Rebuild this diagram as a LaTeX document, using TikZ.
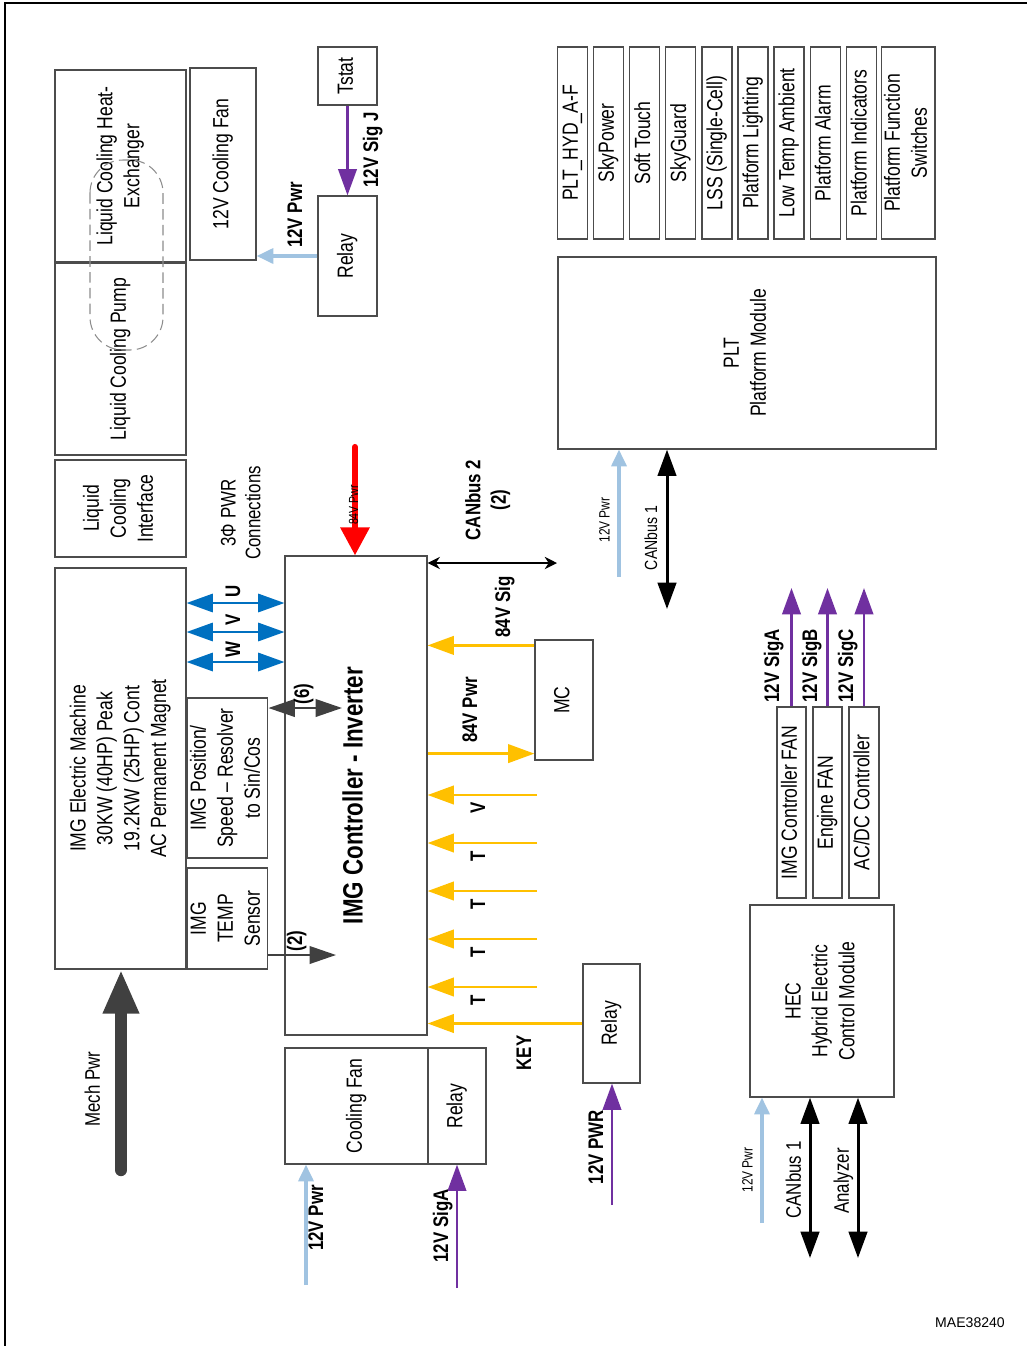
\documentclass[tikz,border=0pt]{standalone}
\usepackage{fontspec}
\setmainfont{Liberation Sans}[FakeStretch=0.8]
\newfontfamily\tagfont{Liberation Sans}
\usepackage{graphicx}
\usetikzlibrary{arrows.meta, calc}

\definecolor{pwrblue}{RGB}{160,195,225}
\definecolor{sigpurple}{RGB}{112,48,160}
\definecolor{sigyellow}{RGB}{255,192,0}
\definecolor{phaseblue}{RGB}{0,112,192}
\definecolor{mechgray}{RGB}{64,64,64}

% rotated (bottom-to-top) text block
\newcommand{\vtxt}[1]{\rotatebox{90}{\begin{tabular}{@{}c@{}}#1\end{tabular}}}

\tikzset{
  blk/.style={draw=black!70, line width=0.7pt, inner sep=0pt,
              font=\fontsize{12.5}{15.3}\selectfont},
  lbl/.style={inner sep=0pt, font=\bfseries\fontsize{12}{14.5}\selectfont},
  txt/.style={inner sep=0pt, font=\fontsize{12}{14.2}\selectfont},
  smalltxt/.style={inner sep=0pt, font=\fontsize{8.5}{10}\selectfont},
  pwr12/.style={draw=pwrblue, line width=2pt, -{Triangle[length=9.5pt, width=8.5pt]}},
  sig12/.style={draw=sigpurple, line width=1.5pt, -{Triangle[length=15pt, width=10.5pt]}},
  sig84/.style={draw=sigyellow, line width=1.6pt, -{Triangle[length=15pt, width=10.5pt]}},
  phase/.style={draw=phaseblue, line width=1.1pt,
                {Triangle[length=15pt, width=10.5pt]}-{Triangle[length=15pt, width=10.5pt]}},
  can/.style={draw=black, line width=1.7pt,
              {Triangle[length=15pt, width=10.5pt]}-{Triangle[length=15pt, width=10.5pt]}},
  can2/.style={draw=black, line width=0.9pt,
               {Stealth[length=7pt, width=7pt]}-{Stealth[length=7pt, width=7pt]}},
  dgarrow/.style={draw=mechgray, line width=1.1pt},
  dgtip/.style={Triangle[length=15pt, width=10pt]},
  pwr84/.style={draw=red, line width=3.5pt, line cap=round, -{Triangle[length=16pt, width=16pt]}},
  mecharrow/.style={draw=mechgray, line width=7pt, line cap=round, -{Triangle[length=25pt, width=19pt]}},
  coolloop/.style={draw=black!45, line width=0.6pt, dash pattern=on 6pt off 3pt, rounded corners=0.66cm}
}

\begin{document}
\begin{tikzpicture}[x=0.02cm, y=-0.02cm]
  \useasboundingbox (0,0) rectangle (1027,1346);
  \draw[line width=1.7pt] (5,1346) -- (5,3) -- (1027,3);

  % cooling
  \node[blk, minimum width=2.62cm, minimum height=3.84cm] (hx) at (120.5,166)
    {\vtxt{Liquid Cooling Heat-\\Exchanger}};
  \node[blk, minimum width=2.62cm, minimum height=3.84cm] (pump) at (120.5,359)
    {\vtxt{Liquid Cooling Pump}};
  \draw[coolloop] (90,160) rectangle (163,350);
  \node[blk, minimum width=1.32cm, minimum height=3.84cm] (fan) at (223,164)
    {\vtxt{12V Cooling Fan}};
  \node[blk, minimum width=1.18cm, minimum height=1.16cm] (tstat) at (347.5,76) {\vtxt{Tstat}};
  \node[blk, minimum width=1.18cm, minimum height=2.4cm] (relayj) at (347.5,256) {\vtxt{Relay}};
  \draw[sig12] (tstat) -- (relayj);
  \node[lbl] (lsigj) at (373,150) {\vtxt{12V Sig J}};
  \draw[pwr12] (relayj.west) -- (relayj.west -| fan.east);
  \node[lbl] (lpwrj) at (297,215) {\vtxt{12V Pwr}};
  \node[blk, minimum width=2.62cm, minimum height=1.94cm] (lci) at (120.5,508.5)
    {\vtxt{Liquid\\Cooling\\Interface}};
  \node[txt] (l3ph) at (243,513) {\vtxt{3Φ PWR\\Connections}};

  % machine and controller
  \node[blk, minimum width=2.62cm, minimum height=8.02cm] (img) at (120.5,768.5)
    {\vtxt{IMG Electric Machine\\30KW (40HP) Peak\\19.2KW (25HP) Cont\\AC Permanent Magnet}};
  \node[blk, minimum width=1.5cm, minimum height=3.2cm] (pos) at (227.5,778)
    {\vtxt{IMG Position/\\Speed – Resolver\\to Sin/Cos}};
  \node[blk, minimum width=1.5cm, minimum height=2.02cm] (temp) at (227.5,918.5)
    {\vtxt{IMG\\TEMP\\Sensor}};
  \node[blk, minimum width=2.84cm, minimum height=9.58cm,
        font=\bfseries\fontsize{15.9}{19}\selectfont] (ctrl) at (356,795.5)
    {\vtxt{IMG Controller - Inverter}};

  \foreach \yy/\ph in {603/U,632/V,662/W}{
    \draw[phase] (img.east |- 0,\yy) -- (ctrl.west |- 0,\yy);
    \node[lbl] (ph\ph) at (235,\yy-12) {\vtxt{\ph}};
  }

  \coordinate (sixend) at (342,708);
  \draw[dgarrow, {Triangle[length=15pt, width=10pt]}-{Triangle[length=15pt, width=10pt]}]
    (pos.east |- sixend) -- (sixend);
  \draw[dgarrow] (293,700) -- (293,716);
  \node[lbl] (lsix) at (304,694) {\vtxt{(6)}};
  \coordinate (twoend) at (336,955);
  \draw[dgarrow, -{Triangle[length=15pt, width=10pt]}] (temp.east |- twoend) -- (twoend);
  \node[lbl] (ltwo) at (297,941) {\vtxt{(2)}};

  \coordinate (redtop) at (355,447);
  \draw[pwr84] (redtop) -- (redtop |- ctrl.north);
  \node[inner sep=0pt, font=\fontsize{7.5}{9}\selectfont] (lred) at (355,505) {\vtxt{84V Pwr}};

  \coordinate (can2end) at (557,563);
  \draw[can2] (ctrl.east |- can2end) -- (can2end);
  \node[lbl] (lcan2) at (488,500) {\vtxt{CANbus 2\\(2)}};

  % motor controller
  \node[blk, minimum width=1.16cm, minimum height=2.4cm] (mc) at (564,700) {\vtxt{MC}};
  \coordinate (mcout) at ($(mc.north west)+(0,6)$);
  \draw[sig84] (mcout) -- (mcout -| ctrl.east);
  \node[lbl] (lmcsig) at (505,607) {\vtxt{84V Sig}};
  \coordinate (mcin) at ($(mc.south west)+(0,-7)$);
  \draw[sig84] (mcin -| ctrl.east) -- (mcin);
  \node[lbl] (lmcpwr) at (472,710) {\vtxt{84V Pwr}};

  \foreach \yy/\tl [count=\i] in {795/V,843/T,891/T,939/T,987/T}{
    \coordinate (tin\i) at (537,\yy);
    \draw[sig84] (tin\i) -- (tin\i -| ctrl.east);
    \node[lbl] (tl\i) at (480,\yy+13) {\vtxt{\tl}};
  }

  \node[blk, minimum width=1.14cm, minimum height=2.38cm] (relayk) at (611.5,1023.5) {\vtxt{Relay}};
  \draw[sig84] (relayk.west) -- (relayk.west -| ctrl.east);
  \node[lbl] (lkey) at (526,1053) {\vtxt{KEY}};
  \coordinate (kpwr) at (612,1205);
  \draw[sig12] (kpwr) -- (kpwr |- relayk.south);
  \node[lbl] (lkpwr) at (598,1147) {\vtxt{12V PWR}};

  % cooling fan
  \node[blk, minimum width=2.86cm, minimum height=2.32cm] (cfan) at (356.5,1106) {\vtxt{Cooling Fan}};
  \node[blk, minimum width=1.16cm, minimum height=2.32cm] (relayf) at (457,1106) {\vtxt{Relay}};
  \coordinate (cfpwr) at (306,1285);
  \draw[pwr12] (cfpwr) -- (cfpwr |- cfan.south);
  \node[lbl] (lcfpwr) at (318,1218) {\vtxt{12V Pwr}};
  \coordinate (rfsig) at (457,1288);
  \draw[sig12] (rfsig) -- (relayf);
  \node[lbl] (lrfsig) at (443,1226) {\vtxt{12V SigA}};

  \coordinate (mech) at (121,1170);
  \draw[mecharrow] (mech) -- (mech |- img.south);
  \node[txt] (lmech) at (95,1089) {\vtxt{Mech Pwr}};

  % platform
  \foreach \nm [count=\i from 0] in {{PLT\_HYD\_A-F}, SkyPower, Soft Touch, SkyGuard,
      {LSS (Single-Cell)}, Platform Lighting, Low Temp Ambient, Platform Alarm, Platform Indicators}
    \node[blk, minimum width=0.6cm, minimum height=3.84cm] (opt\i) at (572.5+36.1*\i,143) {\vtxt{\nm}};
  \node[blk, minimum width=1cm, minimum height=3.84cm] (optsw) at (908,143)
    {\vtxt{Platform Function\\Switches}};
  \node[blk, minimum width=7.56cm, minimum height=3.84cm] (plt) at (747,353)
    {\vtxt{PLT\\Platform Module}};
  \coordinate (pltpwr) at (619,577);
  \draw[pwr12] (pltpwr) -- (pltpwr |- plt.south);
  \node[smalltxt] (lpltpwr) at (606,520) {\vtxt{12V Pwr}};
  \coordinate (can1p) at (667,609);
  \draw[can] (can1p |- plt.south) -- (can1p);
  \node[txt, font=\fontsize{10}{12}\selectfont] (lcan1p) at (653,538) {\vtxt{CANbus 1}};

  % hybrid control
  \node[blk, minimum width=0.58cm, minimum height=3.82cm] (fanimg) at (791.5,802.5) {\vtxt{IMG Controller FAN}};
  \node[blk, minimum width=0.58cm, minimum height=3.82cm] (faneng) at (827.5,802.5) {\vtxt{Engine FAN}};
  \node[blk, minimum width=0.6cm, minimum height=3.82cm] (acdc) at (864,802.5) {\vtxt{AC/DC Controller}};
  \foreach \f/\s/\lx in {fanimg/A/774, faneng/B/812, acdc/C/848}{
    \coordinate (top\f) at (\f.north |- 0,588);
    \draw[sig12] (\f.north) -- (top\f);
    \node[lbl] (lsig\s) at (\lx,666) {\vtxt{12V Sig\s}};
  }
  \node[blk, minimum width=2.88cm, minimum height=3.84cm] (hec) at (822,1001)
    {\vtxt{HEC\\Hybrid Electric\\Control Module}};
  \coordinate (hecpwr) at (762,1223);
  \draw[pwr12] (hecpwr) -- (hecpwr |- hec.south);
  \node[smalltxt] (lhecpwr) at (749,1170) {\vtxt{12V Pwr}};
  \coordinate (heccan) at (810,1258);
  \draw[can] (heccan |- hec.south) -- (heccan);
  \node[txt] (lheccan) at (796,1180) {\vtxt{CANbus 1}};
  \coordinate (hecan) at (858,1258);
  \draw[can] (hecan |- hec.south) -- (hecan);
  \node[txt] (lhecan) at (844,1181) {\vtxt{Analyzer}};

  \node[inner sep=0pt, font=\tagfont\fontsize{8}{10}\selectfont] (tag) at (970,1323) {MAE38240};
\end{tikzpicture}
\end{document}
